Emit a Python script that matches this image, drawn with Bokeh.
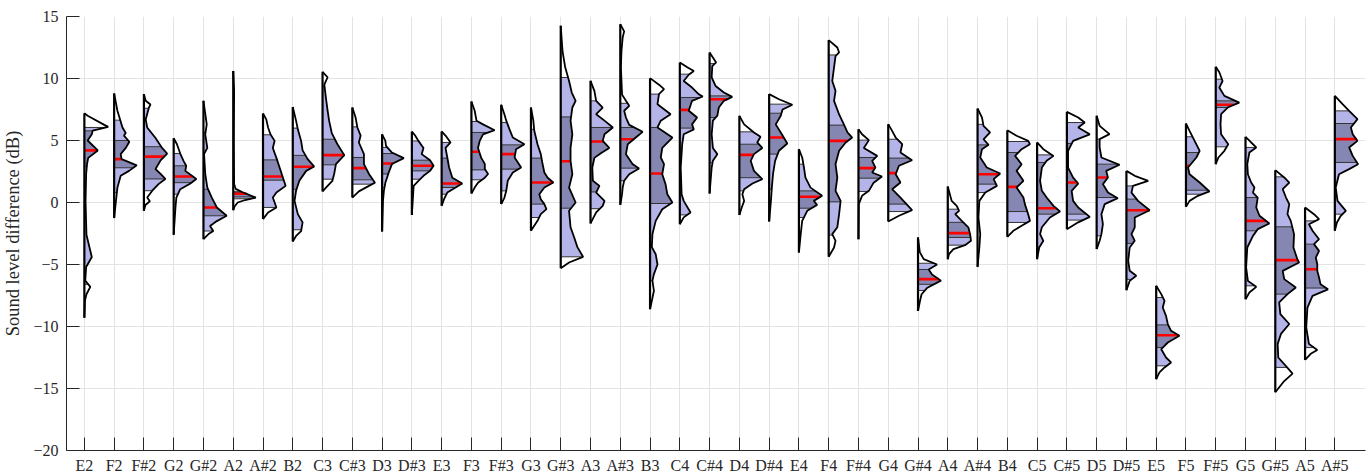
import numpy as np
from bokeh.plotting import figure
from bokeh.models import Range1d, FixedTicker
from bokeh.embed import file_html
from bokeh.resources import INLINE

notes = ["E2", "F2", "F#2", "G2", "G#2", "A2", "A#2", "B2", "C3", "C#3", "D3", "D#3", "E3",
         "F3", "F#3", "G3", "G#3", "A3", "A#3", "B3", "C4", "C#4", "D4", "D#4", "E4", "F4",
         "F#4", "G4", "G#4", "A4", "A#4", "B4", "C5", "C#5", "D5", "D#5", "E5", "F5", "F#5",
         "G5", "G#5", "A5", "A#5"]

# quantiles (dB)
q95 = [6.05, 6.64, 7.6, 3.95, 5.65, 0.9, 5.46, 6.0, 9.35, 6.1, 4.44, 4.97, 4.84,
       6.53, 6.45, 5.9, 10.08, 8.2, 8.0, 8.74, 10.35, 11.2, 5.7, 7.93, 3.09, 11.9,
       5.03, 5.1, -4.9, -0.54, 6.3, 4.92, 3.84, 6.45, 5.11, 1.34, -7.66, 5.3, 9.95,
       4.44, 2.07, -1.48, 7.39]
q75 = [5.78, 5.0, 4.5, 2.96, 1.07, 0.8, 3.44, 3.8, 5.1, 3.63, 3.95, 3.41, 3.58,
       5.65, 4.65, 3.58, 6.9, 6.05, 6.05, 6.05, 8.47, 8.6, 4.7, 7.2, 0.94, 6.24,
       3.63, 3.58, -5.4, -1.6, 4.65, 4.03, 3.23, 4.76, 3.09, 0.27, -9.87, 4.03, 8.2,
       0.4, -1.96, -3.36, 6.37]
q50 = [4.2, 3.5, 3.7, 2.1, -0.4, 0.7, 2.1, 2.88, 3.82, 2.77, 3.15, 2.96, 1.53,
       4.09, 3.9, 1.61, 3.33, 4.92, 5.1, 2.34, 7.47, 8.33, 3.84, 5.24, 0.46, 4.97,
       2.77, 2.37, -6.18, -2.47, 2.28, 1.26, -0.46, 1.61, 2.02, -0.62, -10.7, 2.96, 7.88,
       -1.48, -4.65, -5.38, 5.11]
q25 = [2.9, 2.8, 1.9, 1.6, -1.07, 0.45, 1.8, 1.07, 3.04, 1.83, 2.3, 2.55, 1.21,
       2.63, 2.69, -0.13, -0.46, 0.85, 2.77, -0.08, 6.0, 6.85, 2.0, 3.9, -0.46, 0.05,
       1.96, -0.13, -6.6, -2.82, 1.48, -0.73, -0.94, -0.94, 0.4, -3.3, -11.69, 0.99, 7.66,
       -2.28, -7.39, -6.9, 3.23]
q05 = [-6.6, 0.8, 0.95, 0.67, -2.3, 0.3, -0.4, -2.2, 1.88, 1.48, 1.2, 1.88, 0.67,
       1.83, 0.94, -1.21, -4.38, -0.5, 1.75, -6.3, -1.0, 3.2, 0.94, 1.07, -1.21, -2.63,
       0.89, -0.73, -7.1, -3.44, 0.8, -1.61, -3.6, -1.42, -2.69, -6.2, -13.17, 0.67, 4.49,
       -6.72, -13.3, -11.7, -0.94]

# density outline of each half violin: (level in dB, half width in category units)
outline_pts = [
    [(7.2,0),(7.0,0.11),(6.26,0.67),(6.1,0.80),(5.8,0.28),(5.5,0.25),(5.0,0.11),(4.2,0.45),(3.6,0.13),(3.1,0.09),(2.3,0.06),(0.1,0.04),(-2.6,0.07),(-4.4,0.25),(-5.2,0.06),(-6.3,0.03),(-6.8,0.2),(-7.4,0.07),(-7.9,0.02),(-9.3,0)],
    [(8.8,0),(7.4,0.11),(6.05,0.28),(5.6,0.39),(5.4,0.33),(4.9,0.51),(4.4,0.39),(3.9,0.22),(3.5,0.25),(3.0,0.76),(2.55,0.5),(2.15,0.22),(1.2,0.11),(0.1,0.06),(-1.26,0)],
    [(8.74,0),(8.2,0.06),(7.9,0.22),(7.66,0.17),(6.7,0.06),(6.05,0.11),(5.2,0.39),(4.4,0.61),(3.95,0.78),(3.4,0.56),(2.7,0.39),(2.3,0.56),(1.9,0.72),(1.5,0.5),(0.95,0.28),(0.4,0.11),(0.1,0.2),(-0.2,0.05),(-0.67,0)],
    [(5.19,0),(4.7,0.11),(3.95,0.22),(3.36,0.33),(2.96,0.42),(2.55,0.39),(1.9,0.76),(1.53,0.56),(1.07,0.22),(0.4,0.09),(-0.4,0.06),(-2.6,0)],
    [(8.2,0),(6.3,0.11),(5.5,0.06),(4.4,0.13),(3.9,0.02),(2.3,0.06),(1.2,0.13),(0.4,0.28),(-0.4,0.45),(-1.07,0.78),(-1.5,0.45),(-1.9,0.22),(-2.3,0.33),(-2.55,0.17),(-2.96,0)],
    [(10.6,0),(9.0,0.03),(5.0,0.02),(1.5,0.03),(1.1,0.08),(0.85,0.3),(0.6,0.55),(0.4,0.76),(0.2,0.4),(0.0,0.15),(-0.3,0.05),(-0.62,0)],
    [(7.18,0),(6.7,0.11),(6.05,0.17),(5.5,0.25),(4.97,0.39),(4.4,0.33),(3.6,0.45),(2.8,0.56),(2.0,0.67),(1.34,0.76),(0.8,0.45),(0.4,0.33),(0.0,0.39),(-0.4,0.45),(-0.8,0.17),(-1.34,0)],
    [(7.7,0),(6.6,0.11),(5.9,0.17),(4.97,0.28),(4.2,0.33),(3.5,0.5),(2.9,0.72),(2.55,0.45),(1.75,0.22),(0.94,0.11),(0.13,0.06),(-0.94,0.17),(-1.6,0.33),(-2.3,0.28),(-2.7,0.11),(-3.15,0)],
    [(10.54,0),(10.1,0.17),(9.5,0.06),(8.5,0.11),(7.4,0.17),(6.6,0.22),(5.6,0.31),(4.7,0.5),(3.82,0.73),(3.1,0.45),(2.3,0.39),(1.75,0.33),(1.34,0.17),(0.89,0)],
    [(7.66,0),(6.85,0.11),(6.05,0.17),(5.4,0.28),(4.84,0.22),(3.9,0.39),(3.1,0.39),(2.3,0.56),(1.6,0.76),(1.2,0.45),(0.9,0.22),(0.4,0)],
    [(5.5,0),(4.97,0.11),(4.57,0.13),(4.03,0.33),(3.58,0.73),(3.1,0.33),(2.4,0.22),(1.6,0.11),(0.94,0.06),(0.13,0.03),(-2.34,0)],
    [(5.73,0),(5.4,0.11),(4.97,0.22),(4.4,0.39),(3.9,0.33),(3.41,0.61),(2.96,0.73),(2.55,0.61),(2.15,0.39),(1.75,0.22),(1.34,0.06),(-1.0,0)],
    [(5.73,0),(5.4,0.13),(4.84,0.3),(4.4,0.13),(3.63,0.19),(2.82,0.25),(2.0,0.36),(1.53,0.69),(1.21,0.47),(0.8,0.19),(0.27,0.08),(-0.27,0)],
    [(8.15,0),(7.4,0.11),(6.6,0.17),(6.3,0.39),(5.83,0.78),(5.5,0.39),(4.97,0.28),(4.4,0.22),(3.6,0.33),(3.1,0.45),(2.7,0.45),(2.3,0.56),(2.0,0.45),(1.6,0.22),(1.2,0.11),(0.73,0)],
    [(7.88,0),(7.1,0.11),(6.6,0.17),(5.9,0.28),(5.24,0.39),(4.7,0.78),(4.3,0.5),(3.63,0.45),(2.82,0.67),(2.42,0.39),(1.75,0.22),(0.94,0.17),(0.4,0.11),(-0.13,0)],
    [(7.66,0),(6.6,0.08),(5.8,0.11),(4.7,0.22),(3.9,0.33),(3.1,0.39),(2.42,0.45),(2.0,0.56),(1.61,0.75),(1.21,0.45),(0.67,0.28),(0.27,0.33),(-0.13,0.45),(-0.54,0.52),(-0.94,0.33),(-1.48,0.22),(-2.28,0)],
    [(14.25,0),(12.2,0.06),(10.9,0.15),(9.8,0.28),(8.87,0.37),(8.2,0.5),(7.66,0.39),(6.6,0.33),(5.5,0.39),(4.4,0.33),(3.36,0.33),(2.28,0.39),(1.2,0.28),(0.0,0.5),(-0.67,0.28),(-2.0,0.33),(-2.8,0.45),(-3.6,0.56),(-4.38,0.75),(-4.84,0.28),(-5.3,0)],
    [(9.81,0),(9.0,0.13),(8.2,0.19),(7.66,0.41),(7.12,0.19),(6.6,0.47),(6.05,0.75),(5.5,0.47),(4.97,0.41),(4.4,0.63),(4.0,0.36),(3.6,0.13),(2.8,0.06),(1.75,0.08),(1.34,0.3),(0.8,0.19),(0.13,0.47),(-0.27,0.41),(-0.8,0.19),(-1.69,0)],
    [(14.38,0),(13.8,0.13),(13.3,0.08),(12.2,0.04),(10.9,0.02),(8.7,0.06),(8.2,0.19),(7.8,0.3),(7.4,0.13),(6.85,0.19),(6.26,0.3),(5.7,0.75),(5.24,0.52),(4.7,0.25),(3.9,0.19),(3.1,0.41),(2.74,0.63),(2.28,0.3),(1.75,0.13),(1.2,0.08),(0.67,0.06),(-0.19,0)],
    [(10.03,0),(9.5,0.3),(9.14,0.47),(8.74,0.3),(7.93,0.25),(7.12,0.69),(6.6,0.36),(6.05,0.25),(5.24,0.75),(4.4,0.41),(3.63,0.36),(3.1,0.47),(2.28,0.41),(1.48,0.52),(0.67,0.58),(0.0,0.75),(-0.54,0.41),(-1.48,0.19),(-2.55,0.08),(-3.6,0.06),(-4.17,0.19),(-5.0,0.25),(-5.78,0.13),(-6.3,0.08),(-7.12,0.13),(-7.93,0.06),(-8.6,0)],
    [(11.29,0),(10.9,0.25),(10.6,0.47),(10.3,0.3),(9.8,0.13),(9.27,0.41),(8.74,0.63),(8.55,0.77),(8.2,0.41),(7.4,0.3),(6.85,0.58),(6.3,0.41),(5.9,0.47),(5.5,0.13),(4.7,0.08),(2.8,0.03),(0.67,0.06),(0.13,0.13),(-0.8,0.36),(-1.2,0.13),(-1.75,0)],
    [(12.1,0),(11.7,0.11),(11.3,0.22),(11.0,0.09),(10.1,0.07),(9.4,0.2),(8.87,0.48),(8.52,0.76),(8.2,0.48),(7.66,0.31),(7.0,0.26),(6.6,0.11),(5.5,0.07),(4.4,0.11),(3.9,0.26),(3.36,0.11),(2.82,0.07),(0.73,0)],
    [(6.99,0),(6.3,0.16),(5.65,0.49),(5.3,0.71),(4.84,0.6),(4.4,0.77),(3.9,0.49),(3.36,0.38),(2.55,0.49),(1.88,0.77),(1.53,0.44),(1.07,0.16),(0.67,0.1),(0.13,0.16),(-0.4,0.08),(-1.0,0)],
    [(8.74,0),(8.33,0.33),(7.88,0.78),(7.5,0.45),(7.0,0.39),(6.3,0.22),(5.65,0.39),(4.76,0.61),(4.17,0.33),(3.36,0.2),(2.28,0.13),(1.2,0.09),(0.13,0.06),(-1.53,0)],
    [(4.3,0),(3.63,0.11),(2.82,0.17),(2.0,0.22),(1.2,0.39),(0.54,0.78),(0.13,0.5),(-0.19,0.61),(-0.67,0.28),(-1.48,0.11),(-2.55,0.06),(-4.03,0)],
    [(13.1,0),(12.5,0.29),(12.1,0.35),(11.8,0.23),(10.9,0.18),(9.8,0.12),(9.0,0.23),(8.2,0.18),(7.1,0.35),(6.3,0.51),(5.65,0.63),(5.24,0.79),(4.84,0.57),(4.17,0.35),(3.1,0.23),(2.0,0.29),(0.94,0.23),(0.13,0.4),(-0.94,0.35),(-2.0,0.29),(-2.55,0.12),(-3.09,0.23),(-3.63,0.18),(-4.38,0)],
    [(5.91,0),(5.5,0.12),(5.03,0.35),(4.4,0.18),(3.76,0.63),(3.36,0.46),(2.82,0.57),(2.42,0.46),(2.1,0.79),(1.6,0.51),(0.94,0.35),(0.54,0.12),(-0.13,0.01),(-2.96,0)],
    [(6.32,0),(5.78,0.13),(5.24,0.25),(4.7,0.47),(4.03,0.41),(3.41,0.8),(2.96,0.36),(2.28,0.25),(1.61,0.41),(1.07,0.13),(0.4,0.41),(-0.62,0.8),(-1.07,0.36),(-1.53,0)],
    [(-2.82,0),(-4.0,0.06),(-4.57,0.19),(-5.0,0.64),(-5.4,0.36),(-5.8,0.47),(-6.3,0.77),(-6.9,0.3),(-7.4,0.12),(-7.9,0.07),(-8.74,0)],
    [(1.29,0),(0.13,0.13),(-0.27,0.3),(-0.67,0.38),(-0.94,0.25),(-1.48,0.47),(-2.0,0.69),(-2.55,0.75),(-3.09,0.78),(-3.44,0.58),(-3.76,0.19),(-4.17,0.04),(-4.57,0)],
    [(7.58,0),(6.85,0.15),(6.18,0.2),(5.65,0.42),(5.1,0.2),(4.65,0.37),(4.3,0.15),(3.63,0.09),(2.82,0.31),(2.34,0.76),(1.88,0.54),(1.34,0.65),(0.8,0.26),(0.13,0.06),(-1.21,0.03),(-2.55,0.09),(-3.63,0.06),(-5.19,0)],
    [(5.83,0),(5.38,0.31),(4.97,0.7),(4.7,0.76),(4.3,0.48),(3.76,0.26),(3.09,0.48),(2.55,0.31),(1.75,0.54),(1.21,0.31),(0.4,0.54),(-0.13,0.59),(-0.94,0.7),(-1.48,0.76),(-1.88,0.48),(-2.28,0.2),(-2.77,0)],
    [(4.84,0),(4.3,0.21),(3.76,0.55),(3.36,0.32),(2.82,0.16),(1.75,0.1),(0.94,0.16),(0.4,0.32),(-0.27,0.55),(-0.73,0.77),(-1.21,0.43),(-2.0,0.16),(-2.55,0.1),(-3.09,0.21),(-3.63,0.07),(-4.57,0)],
    [(7.31,0),(6.85,0.38),(6.45,0.6),(6.05,0.38),(5.5,0.77),(4.97,0.21),(4.17,0.04),(2.82,0.04),(2.0,0.21),(1.53,0.38),(0.94,0.16),(0.13,0.21),(-0.4,0.38),(-1.16,0.77),(-1.6,0.38),(-2.15,0)],
    [(6.99,0),(6.18,0.1),(5.51,0.43),(5.11,0.1),(4.44,0.1),(3.63,0.16),(3.04,0.77),(2.55,0.32),(2.02,0.38),(1.48,0.21),(0.8,0.38),(0.35,0.71),(-0.13,0.27),(-0.94,0.16),(-1.75,0.21),(-2.55,0.16),(-3.09,0.1),(-3.76,0)],
    [(2.55,0),(2.15,0.28),(1.75,0.73),(1.34,0.22),(0.8,0.17),(0.13,0.39),(-0.62,0.78),(-1.21,0.28),(-2.0,0.28),(-2.55,0.17),(-3.09,0.28),(-3.63,0.11),(-4.7,0.06),(-5.51,0.11),(-5.91,0.33),(-6.32,0.11),(-7.07,0)],
    [(-6.72,0),(-7.39,0.17),(-7.93,0.28),(-8.47,0.22),(-9.14,0.33),(-9.8,0.39),(-10.35,0.5),(-10.75,0.78),(-11.29,0.39),(-11.83,0.17),(-12.5,0.33),(-12.9,0.5),(-13.3,0.28),(-13.7,0.11),(-14.25,0)],
    [(6.37,0),(5.78,0.12),(4.97,0.29),(4.17,0.46),(3.63,0.35),(2.82,0.07),(2.28,0.12),(1.61,0.46),(0.89,0.79),(0.54,0.4),(0.13,0.12),(-0.35,0)],
    [(10.94,0),(10.5,0.12),(9.8,0.23),(9.27,0.12),(8.6,0.29),(8.06,0.79),(7.66,0.4),(7.12,0.18),(6.3,0.16),(5.5,0.18),(4.7,0.42),(4.17,0.29),(3.63,0.09),(3.09,0)],
    [(5.3,0),(4.84,0.19),(4.44,0.36),(4.03,0.13),(3.09,0.06),(2.28,0.08),(1.61,0.19),(1.21,0.3),(0.8,0.25),(0.4,0.41),(-0.4,0.36),(-1.07,0.47),(-1.69,0.8),(-2.15,0.41),(-2.69,0.25),(-3.63,0.06),(-5.24,0.02),(-6.32,0.08),(-6.8,0.36),(-7.26,0.13),(-7.8,0)],
    [(2.61,0),(2.02,0.3),(1.61,0.47),(1.07,0.25),(0.4,0.36),(-0.13,0.47),(-0.94,0.41),(-1.48,0.52),(-2.55,0.63),(-3.63,0.61),(-4.57,0.74),(-4.84,0.8),(-5.51,0.25),(-6.18,0.3),(-6.85,0.69),(-7.39,0.41),(-8.06,0.13),(-9.0,0.17),(-9.8,0.47),(-10.6,0.19),(-11.4,0.08),(-12.5,0.1),(-13.2,0.36),(-13.8,0.58),(-14.4,0.3),(-15.3,0)],
    [(-0.4,0),(-0.94,0.3),(-1.34,0.47),(-1.75,0.13),(-2.28,0.25),(-2.96,0.47),(-3.36,0.3),(-3.9,0.47),(-4.44,0.36),(-4.97,0.41),(-5.51,0.41),(-6.05,0.47),(-6.6,0.52),(-7.0,0.77),(-7.53,0.25),(-8.47,0.08),(-10.08,0.04),(-11.4,0.13),(-11.9,0.41),(-12.2,0.19),(-12.7,0)],
    [(8.6,0),(7.93,0.26),(7.39,0.48),(6.72,0.76),(6.05,0.54),(5.51,0.6),(4.97,0.76),(4.44,0.48),(3.76,0.6),(3.09,0.78),(2.69,0.48),(2.28,0.14),(1.21,0.03),(0.13,0.09),(-0.67,0.37),(-1.07,0.2),(-1.61,0.07),(-2.28,0)],
]

LIGHT = "#b4b4e8"
DARK = "#8686b2"
AX = "#262626"
FONT = "'Liberation Serif', 'Times New Roman', serif"

p = figure(width=1371, height=476, output_backend="svg", toolbar_location=None,
           x_range=Range1d(0.4, 44.03), y_range=Range1d(-20, 15),
           min_border_left=62, min_border_right=6, min_border_top=16, min_border_bottom=26)
p.outline_line_color = None
p.background_fill_color = "white"

poly_xs, poly_ys, poly_col = [], [], []
qx0, qx1, qy = [], [], []
mx0, mx1, my = [], [], []
ol_xs, ol_ys = [], []
vx, vy0, vy1 = [], [], []

for i, name in enumerate(notes):
    x0 = i + 1
    pts = sorted(outline_pts[i], key=lambda t: -t[0])
    ys = np.array([t[0] for t in pts])
    ws = np.array([t[1] for t in pts])
    ya, wa = ys[::-1], ws[::-1]

    def wid(v):
        return float(np.interp(v, ya, wa))

    ymax, ymin = ys[0], ys[-1]
    bounds = [ymin, q05[i], q25[i], q75[i], q95[i], ymax]
    cols = ["white", LIGHT, DARK, LIGHT, "white"]
    for k in range(5):
        lo, hi = bounds[k], bounds[k + 1]
        if hi <= lo:
            continue
        inner = [(y, w) for y, w in zip(ys, ws) if lo < y < hi]
        xs_ = [x0, x0 + wid(hi)] + [x0 + w for _, w in inner] + [x0 + wid(lo), x0]
        ys_ = [hi, hi] + [y for y, _ in inner] + [lo, lo]
        poly_xs.append(xs_)
        poly_ys.append(ys_)
        poly_col.append(cols[k])
    for qv in (q05[i], q25[i], q75[i], q95[i]):
        qx0.append(x0); qx1.append(x0 + wid(qv)); qy.append(qv)
    mx0.append(x0); mx1.append(x0 + wid(q50[i])); my.append(q50[i])
    ol_xs.append(list(x0 + ws)); ol_ys.append(list(ys))
    vx.append(x0); vy0.append(ymin); vy1.append(ymax)

p.patches(xs=poly_xs, ys=poly_ys, fill_color=poly_col, line_color=None)
p.segment(x0=qx0, y0=qy, x1=qx1, y1=qy, line_color="#333333", line_width=1)
p.segment(x0=mx0, y0=my, x1=mx1, y1=my, line_color="#ff0000", line_width=2.6)
p.multi_line(xs=ol_xs, ys=ol_ys, line_color="black", line_width=1.8)
p.segment(x0=vx, y0=vy0, x1=vx, y1=vy1, line_color="black", line_width=2.2)

ticks = list(range(1, len(notes) + 1))
p.xaxis.ticker = FixedTicker(ticks=ticks)
p.xaxis.major_label_overrides = {t: n for t, n in zip(ticks, notes)}
p.xgrid.ticker = FixedTicker(ticks=ticks)
p.yaxis.ticker = FixedTicker(ticks=[-20, -15, -10, -5, 0, 5, 10, 15])
p.ygrid.ticker = FixedTicker(ticks=[-20, -15, -10, -5, 0, 5, 10, 15])
for g in (p.xgrid, p.ygrid):
    g.grid_line_color = "#e3e3e3"
    g.grid_line_width = 1

for ax in (p.xaxis, p.yaxis):
    ax.axis_line_color = AX
    ax.axis_line_width = 1
    ax.major_tick_line_color = AX
    ax.major_tick_in = 13
    ax.major_tick_out = 0
    ax.minor_tick_line_color = None
    ax.major_label_text_font = FONT
    ax.major_label_text_font_size = "16px"
    ax.major_label_text_color = AX
    ax.axis_label_text_font = FONT
    ax.axis_label_text_font_style = "normal"
    ax.axis_label_text_color = AX

p.xaxis.major_label_standoff = 6
p.yaxis.major_label_standoff = 8
p.yaxis.axis_label = "Sound level difference (dB)"
p.yaxis.axis_label_text_font_size = "18.5px"
p.yaxis.axis_label_standoff = 7

open("out.html", "w").write(file_html(p, INLINE))
